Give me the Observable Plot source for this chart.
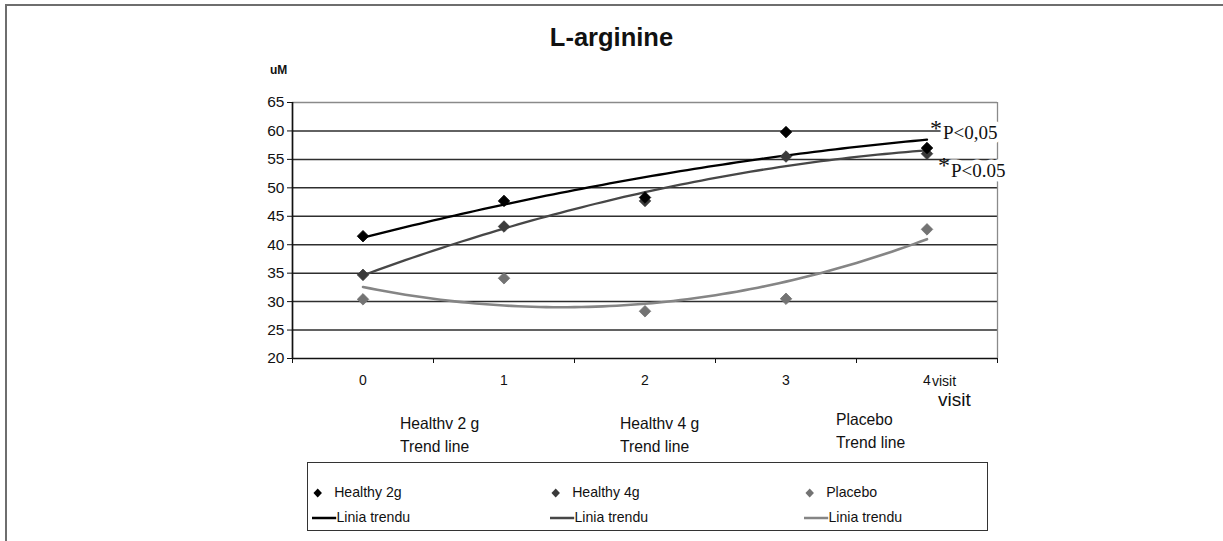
<!DOCTYPE html>
<html>
<head>
<meta charset="utf-8">
<script src="https://cdn.jsdelivr.net/npm/d3@7"></script>
<script src="https://cdn.jsdelivr.net/npm/@observablehq/plot@0.6"></script>
<style>
  html, body { margin: 0; padding: 0; background: #fff; }
  #wrap { position: relative; width: 1223px; height: 541px; overflow: hidden; font-family: "Liberation Sans", Arial, sans-serif; color: #111; }
  #frame { position: absolute; left: 5px; top: 4px; right: -4px; bottom: -4px; border-top: 2px solid #6e6e6e; border-left: 2px solid #6e6e6e; }
  #chart { position: absolute; left: 0; top: 0; }
  .abs { position: absolute; white-space: nowrap; line-height: 1; }
  #title { left: 0; width: 1223px; top: 25px; text-align: center; font-weight: bold; font-size: 25.5px; }
  #unit { left: 270px; top: 64px; font-size: 12px; font-weight: bold; }
  .series { font-size: 16.5px; line-height: 23px; transform: scaleX(0.95); transform-origin: left top; }
  #legend { position: absolute; left: 307px; top: 462px; width: 679px; height: 67px; border: 1.5px solid #333; }
  .lg { position: absolute; font-size: 15px; line-height: 1; white-space: nowrap; transform: scaleX(0.94); transform-origin: left top; }
  .lg svg { vertical-align: middle; }
</style>
</head>
<body>
<div id="wrap">
  <div id="frame"></div>
  <div id="chart"></div>
  <div id="title" class="abs">L-arginine</div>
  <div id="unit" class="abs">uM</div>
</div>
<script>
// Visits on the x axis and their tick labels
const visits = [0, 1, 2, 3, 4];
const xTickLabels = ["0", "1", "2", "3", "4"];
const xBoundaries = [-0.5, 0.5, 1.5, 2.5, 3.5, 4.5];
const yTicks = [20, 25, 30, 35, 40, 45, 50, 55, 60, 65];

// Mean L-arginine concentration (uM) per visit
const healthy2g = [41.5, 47.7, 48.3, 59.8, 57.0];
const healthy4g = [34.7, 43.2, 47.7, 55.5, 56.0];
const placebo   = [30.4, 34.1, 28.3, 30.5, 42.7];

const seriesNames = ["Healthy 2g", "Healthy 4g", "Placebo"];
const seriesValues = [healthy2g, healthy4g, placebo];
const pointColors = ["#000000", "#3a3a3a", "#737373"];
const trendColors = ["#000000", "#474747", "#858585"];
const trendWidths = [2.3, 2.3, 2.6];

// Second-order polynomial trend (least squares), as a spreadsheet trendline
function quadFit(xs, ys) {
  const n = xs.length;
  let s1 = 0, s2 = 0, s3 = 0, s4 = 0, t0 = 0, t1 = 0, t2 = 0;
  for (let i = 0; i < n; i++) {
    const x = xs[i], y = ys[i];
    s1 += x; s2 += x * x; s3 += x * x * x; s4 += x * x * x * x;
    t0 += y; t1 += x * y; t2 += x * x * y;
  }
  const M = [[n, s1, s2], [s1, s2, s3], [s2, s3, s4]];
  const det = m => m[0][0]*(m[1][1]*m[2][2]-m[1][2]*m[2][1]) - m[0][1]*(m[1][0]*m[2][2]-m[1][2]*m[2][0]) + m[0][2]*(m[1][0]*m[2][1]-m[1][1]*m[2][0]);
  const D = det(M);
  const rhs = [t0, t1, t2];
  const coef = [0, 1, 2].map(k => det(M.map((row, r) => row.map((v, c) => c === k ? rhs[r] : v))) / D);
  return x => coef[0] + coef[1] * x + coef[2] * x * x;
}

const points = [];
const trends = [];
seriesValues.forEach((vals, s) => {
  visits.forEach((v, i) => points.push({series: seriesNames[s], s, visit: v, value: vals[i]}));
  const f = quadFit(visits, vals);
  d3.range(0, 4.0001, 0.05).forEach(x => trends.push({series: seriesNames[s], s, visit: x, value: f(x)}));
});
const trendEnd = seriesValues.map(vals => quadFit(visits, vals)(4));

const serif = "Liberation Serif, Times New Roman, serif";

const chart = Plot.plot({
  width: 1223,
  height: 541,
  marginLeft: 292,
  marginRight: 226,
  marginTop: 102,
  marginBottom: 183,
  style: {background: "transparent", fontFamily: "Liberation Sans, Arial, sans-serif", color: "#111"},
  x: {domain: [-0.5, 4.5], axis: null},
  y: {domain: [20, 65], axis: null},
  marks: [
    // horizontal gridlines
    Plot.ruleY(yTicks.filter(t => t > 20 && t < 65), {stroke: "#2e2e2e", strokeWidth: 1.5}),
    Plot.ruleY([65], {stroke: "#8a8a8a", strokeWidth: 1.3}),
    Plot.ruleX([4.5], {stroke: "#8a8a8a", strokeWidth: 1.3}),
    // axes
    Plot.axisY({ticks: yTicks, tickSize: 5, tickPadding: 3, fontSize: 15.5, label: null, stroke: "#111"}),
    Plot.axisX({ticks: xBoundaries, tickSize: 5, tickFormat: () => "", label: null, stroke: "#111"}),
    Plot.axisX({ticks: visits, tickSize: 0, tickPadding: 17, tickFormat: (d, i) => xTickLabels[i], fontSize: 14, label: null}),
    Plot.ruleX([-0.5], {stroke: "#111", strokeWidth: 1.7}),
    Plot.ruleY([20], {stroke: "#111", strokeWidth: 1.7}),
    // trend lines
    ...seriesNames.map((name, s) => Plot.line(trends.filter(d => d.s === s), {x: "visit", y: "value", stroke: trendColors[s], strokeWidth: trendWidths[s], curve: "linear"})),
    // measured means
    ...[2, 1, 0].map(s => Plot.dot(points.filter(d => d.s === s), {x: "visit", y: "value", symbol: "diamond2", r: 5.2, fill: pointColors[s], stroke: pointColors[s], strokeWidth: 0.8})),
    // significance annotations
    Plot.text([{visit: 4, value: trendEnd[0]}], {x: "visit", y: "value", text: () => "P<0,05", textAnchor: "start", dx: 16, dy: -7, fontSize: 19, fontFamily: serif, fill: "#111", stroke: "white", strokeWidth: 9}),
    Plot.text([{visit: 4, value: trendEnd[0]}], {x: "visit", y: "value", text: () => "*", textAnchor: "start", dx: 3, dy: -11, fontSize: 24, fontFamily: serif, fill: "#111"}),
    Plot.text([{visit: 4, value: trendEnd[1]}], {x: "visit", y: "value", text: () => "P<0.05", textAnchor: "start", dx: 24, dy: 21, fontSize: 19, fontFamily: serif, fill: "#111", stroke: "white", strokeWidth: 9}),
    Plot.text([{visit: 4, value: trendEnd[1]}], {x: "visit", y: "value", text: () => "*", textAnchor: "start", dx: 11, dy: 15, fontSize: 24, fontFamily: serif, fill: "#111"})
  ]
});
document.getElementById("chart").appendChild(chart);

const wrap = document.getElementById("wrap");
function addDiv(html, cls, left, top, extra) {
  const el = document.createElement("div");
  el.className = cls;
  el.innerHTML = html;
  el.style.left = left + "px";
  el.style.top = top + "px";
  if (extra) Object.assign(el.style, extra);
  wrap.appendChild(el);
  return el;
}

// axis title continuation next to the last visit
addDiv("visit", "abs", 932, 374, {fontSize: "14px"});
addDiv("visit", "abs", 938, 390, {fontSize: "19px"});

// trend line captions under the axis
const captions = [["Healthv 2 g", "Trend line"], ["Healthv 4 g", "Trend line"], ["Placebo", "Trend line"]];
const captionPos = [[400, 412], [620, 412], [836, 408]];
captions.forEach((c, i) => addDiv(c.join("<br>"), "abs series", captionPos[i][0], captionPos[i][1]));

// legend
const legend = document.createElement("div");
legend.id = "legend";
wrap.appendChild(legend);
const legendX = [5, 243, 497];
const diamond = c => `<svg width="10" height="10" viewBox="-5 -5 10 10"><path d="M0,-4.5L4.5,0L0,4.5L-4.5,0Z" fill="${c}"/></svg>`;
const dash = c => `<svg width="26" height="4" viewBox="0 0 26 4"><line x1="0" x2="26" y1="2" y2="2" stroke="${c}" stroke-width="2.6"/></svg>`;
seriesNames.forEach((name, s) => {
  const a = document.createElement("div");
  a.className = "lg";
  a.style.left = legendX[s] + "px";
  a.style.top = "21px";
  a.innerHTML = `${diamond(pointColors[s])}&nbsp;&nbsp;&nbsp;${name}`;
  legend.appendChild(a);
  const b = document.createElement("div");
  b.className = "lg";
  b.style.left = legendX[s] - 1 + "px";
  b.style.top = "46px";
  b.innerHTML = `${dash(trendColors[s])}Linia trendu`;
  legend.appendChild(b);
});
</script>
</body>
</html>
